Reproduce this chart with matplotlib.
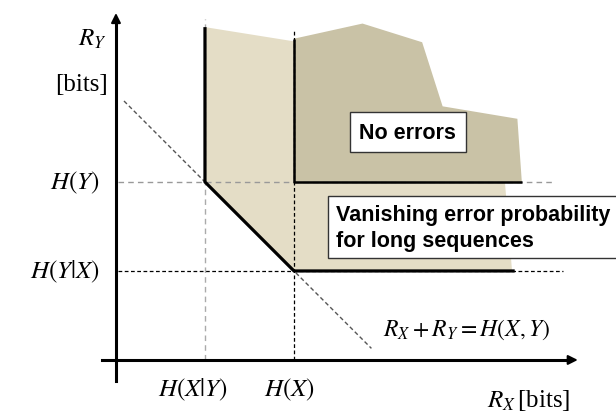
import matplotlib.pyplot as plt
from matplotlib.patches import Polygon

plt.rcParams['mathtext.fontset'] = 'stix'
plt.rcParams['font.family'] = 'Liberation Serif'

# entropies (bits)
H_X_given_Y = 1.0
H_X = 2.0
H_Y_given_X = 1.0
H_Y = 2.0
H_XY = 3.0

# achievable region (vanishing error) outline
light_x = [1.0, 2.0, 4.37, 4.45, 2.0, 1.0]
light_y = [3.74, 3.58, 2.0, 1.0, 1.0, 2.0]

# zero-error region outline
dark_x = [2.0, 2.77, 3.44, 3.67, 4.51, 4.56, 2.0]
dark_y = [3.61, 3.78, 3.57, 2.85, 2.71, 2.0, 2.0]

fig = plt.figure(figsize=(6.16, 4.14), dpi=100)
ax = fig.add_axes([0, 0, 1, 1])
ax.set_xlim(-1.303, 5.618)
ax.set_ylim(-0.596, 4.056)
ax.axis('off')

ax.add_patch(Polygon(list(zip(light_x, light_y)), closed=True, fc='#e4ddc6', ec='none', zorder=1))
ax.add_patch(Polygon(list(zip(dark_x, dark_y)), closed=True, fc='#c9c2a6', ec='none', zorder=2))

# guide lines
ax.plot([0.02, 4.9], [H_Y, H_Y], ls=(0, (4, 3)), color='#999999', lw=1.0, zorder=3)
ax.plot([0.02, 5.02], [H_Y_given_X, H_Y_given_X], ls=(0, (3, 2)), color='black', lw=0.9, zorder=3)
ax.plot([H_X_given_Y, H_X_given_Y], [0, 3.83], ls=(0, (4, 3)), color='#aaaaaa', lw=1.0, zorder=3)
ax.plot([H_X, H_X], [0, 3.72], ls=(0, (3, 2)), color='black', lw=0.9, zorder=3)
ax.plot([0.09, 2.87], [H_XY - 0.09, H_XY - 2.87], ls=(0, (3, 2)), color='#555555', lw=1.0, zorder=3)

# region boundaries
ax.plot([H_X_given_Y, H_X_given_Y, H_X, 4.48], [3.74, H_Y, H_Y_given_X, H_Y_given_X],
        color='black', lw=2.3, solid_capstyle='butt', zorder=4)
ax.plot([H_X, H_X, 4.56], [3.61, H_Y, H_Y], color='black', lw=1.8, solid_capstyle='butt', zorder=4)

# axes with arrows
ax.plot([0, 0], [-0.236, 3.8], color='black', lw=2.2, zorder=5)
ax.plot([-0.157, 5.1], [0, 0], color='black', lw=2.2, zorder=5)
ax.annotate('', xy=(0, 3.93), xytext=(0, 3.75),
            arrowprops=dict(arrowstyle='-|>', color='black', lw=1.5, mutation_scale=14), zorder=6)
ax.annotate('', xy=(5.22, 0), xytext=(5.05, 0),
            arrowprops=dict(arrowstyle='-|>', color='black', lw=1.5, mutation_scale=14), zorder=6)

lab = dict(fontsize=18, color='black')
ax.text(-0.10, 3.61, r'$R_Y$', ha='right', va='center', **lab)
ax.text(-0.09, 3.10, '[bits]', ha='right', va='center', **lab)
ax.text(-0.18, H_Y, r'$H\left(Y\right)$', ha='right', va='center', **lab)
ax.text(-0.18, H_Y_given_X, r'$H\left(Y|X\right)$', ha='right', va='center', **lab)
ax.text(0.87, -0.33, r'$H\left(X|Y\right)$', ha='center', va='center', **lab)
ax.text(1.95, -0.33, r'$H\left(X\right)$', ha='center', va='center', **lab)
ax.text(4.64, -0.44, r'$R_X\,$[bits]', ha='center', va='center', **lab)
ax.text(3.94, 0.35, r'$R_X + R_Y = H\left(X, Y\right)$', ha='center', va='center', fontsize=17)

ax.text(3.28, 2.56, 'No errors', ha='center', va='center', fontsize=15.5,
        family='Liberation Sans', weight='bold', zorder=7,
        bbox=dict(boxstyle='square,pad=0.45', fc='white', ec='#333333', lw=1.0))
ax.text(2.47, 1.49, 'Vanishing error probability\nfor long sequences', ha='left', va='center',
        fontsize=15.5, family='Liberation Sans', weight='bold', linespacing=1.3, zorder=7,
        bbox=dict(boxstyle='square,pad=0.35', fc='white', ec='#333333', lw=1.0))

fig.savefig('out.png', dpi=100)
